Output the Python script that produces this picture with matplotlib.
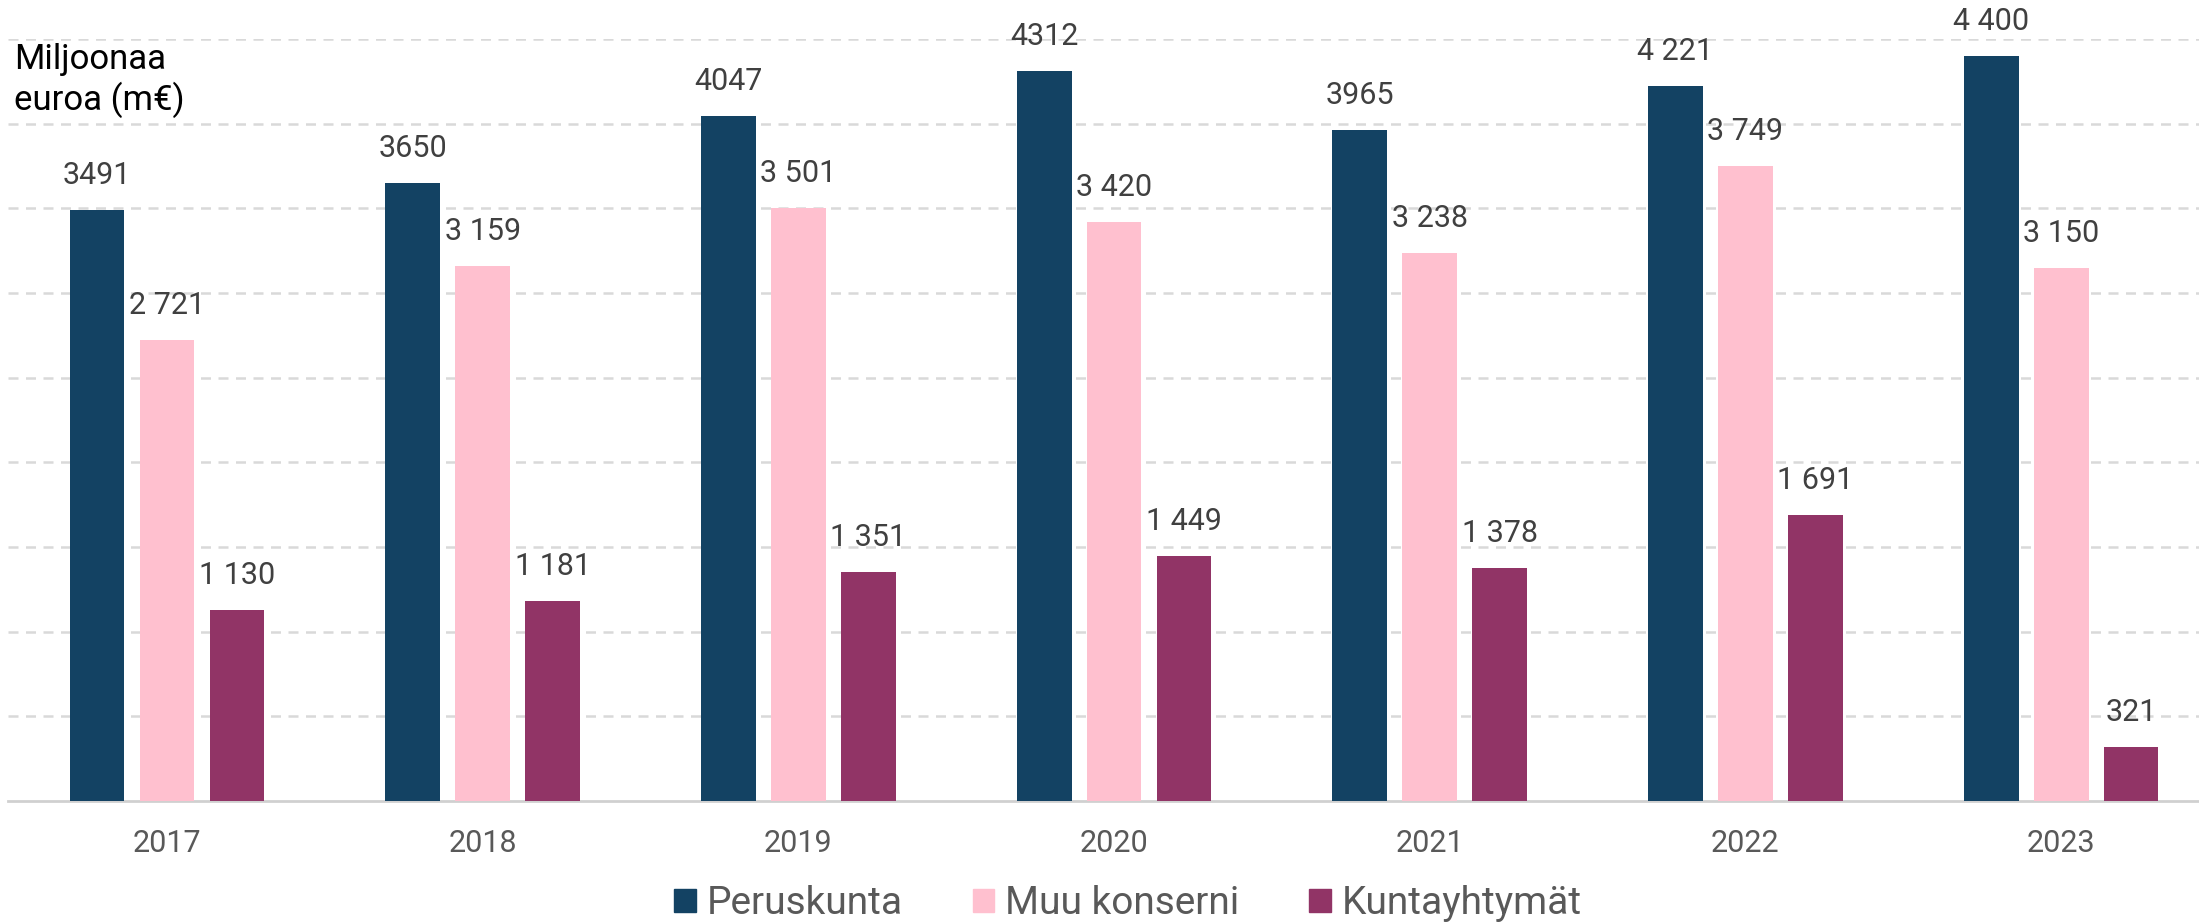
import numpy as np
import matplotlib.pyplot as plt
from matplotlib.patches import Patch

plt.rcParams['font.family'] = ['Roboto', 'DejaVu Sans']

years = ['2017', '2018', '2019', '2020', '2021', '2022', '2023']
series_names = ['Peruskunta', 'Muu konserni', 'Kuntayhtymät']

peruskunta = [3491, 3650, 4047, 4312, 3965, 4221, 4400]
muu_konserni = [2721, 3159, 3501, 3420, 3238, 3749, 3150]
kuntayhtymat = [1130, 1181, 1351, 1449, 1378, 1691, 321]

# labels as printed in the source (some without thousand separator)
peruskunta_labels = ['3491', '3650', '4047', '4312', '3965', '4 221', '4 400']
muu_konserni_labels = ['2 721', '3 159', '3 501', '3 420', '3 238', '3 749', '3 150']
kuntayhtymat_labels = ['1 130', '1 181', '1 351', '1 449', '1 378', '1 691', '321']

colors = ['#134263', '#FFC0CF', '#913466']

fig = plt.figure(figsize=(21.99, 9.23), dpi=100)
ax = fig.add_axes([0.0036, 0.1322, 0.9964, 0.8255])

x = np.arange(len(years))
step = 0.2217
width = 0.174

all_vals = [peruskunta, muu_konserni, kuntayhtymat]
all_labels = [peruskunta_labels, muu_konserni_labels, kuntayhtymat_labels]

for i, (vals, labs) in enumerate(zip(all_vals, all_labels)):
    bars = ax.bar(x + (i - 1) * step, vals, width=width, color=colors[i],
                  label=series_names[i], zorder=3)
    for bar, lab in zip(bars, labs):
        ax.annotate(lab,
                    xy=(bar.get_x() + bar.get_width() / 2, bar.get_height()),
                    xytext=(0, 14.4), textcoords='offset points',
                    ha='center', va='bottom', fontsize=22, color='#404040')

ax.set_ylim(0, 4500)
ax.set_xlim(-0.504, 6.437)
ax.set_yticks(np.arange(500, 4501, 500))
ax.yaxis.grid(True, linestyle=(0, (4, 3)), color='#D9D9D9', linewidth=1.8, zorder=0)
ax.tick_params(axis='y', length=0, labelleft=False)
ax.set_xticks(x)
ax.set_xticklabels(years, fontsize=22, color='#595959')
ax.tick_params(axis='x', length=0, pad=20)

for s in ['top', 'right', 'left']:
    ax.spines[s].set_visible(False)
ax.spines['bottom'].set_color('#D0D0D0')
ax.spines['bottom'].set_linewidth(2)

fig.text(0.0064, 0.913, 'Miljoonaa\neuroa (m€)', fontsize=25, color='black',
         ha='left', va='center', linespacing=1.2)

handles = [Patch(color=c) for c in colors]
fig.legend(handles, series_names, loc='center', bbox_to_anchor=(0.513, 0.021),
           ncol=3, frameon=False, fontsize=28, handlelength=0.55, handleheight=0.55,
           handletextpad=0.28, columnspacing=1.8, labelcolor='#595959')

fig.savefig('out.png', dpi=100)
